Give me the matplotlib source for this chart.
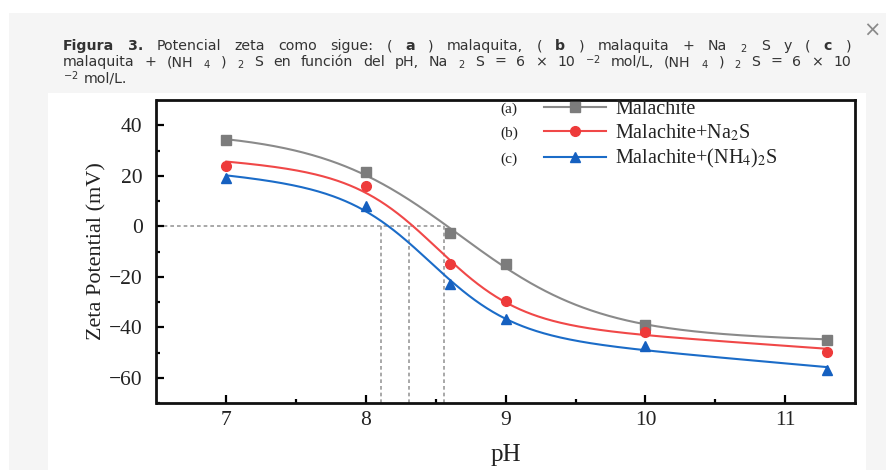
import numpy as np
import matplotlib
matplotlib.use("Agg")
import matplotlib.pyplot as plt
from matplotlib.patches import Rectangle
from matplotlib.lines import Line2D

# ---- data -------------------------------------------------------------
ph = [7.0, 8.0, 8.6, 9.0, 10.0, 11.3]
zeta_malachite = [34.0, 21.4, -2.6, -15.1, -39.0, -44.9]
zeta_na2s = [23.9, 15.9, -15.0, -29.8, -41.7, -49.7]
zeta_nh4s = [19.0, 7.9, -22.7, -36.6, -47.6, -56.8]
iep_values = [8.11, 8.31, 8.56]          # isoelectric points (zeta = 0)

series_labels = ["Malachite", "Malachite+Na$_2$S", "Malachite+(NH$_4$)$_2$S"]
series_tags = ["(a)", "(b)", "(c)"]
x_ticks = [7, 8, 9, 10, 11]
y_ticks = [40, 20, 0, -20, -40, -60]

line_colors = ["#8a8a8a", "#f04848", "#1b6cc8"]
marker_colors = ["#7c7c7c", "#ee3a3a", "#1560c0"]
markers = ["s", "o", "^"]

# caption, as (token, bold) pairs per line
caption_lines = [
    [("Figura", True), ("3.", True), ("Potencial", False), ("zeta", False),
     ("como", False), ("sigue:", False), ("(", False), ("a", True), (")", False),
     ("malaquita,", False), ("(", False), ("b", True), (")", False),
     ("malaquita", False), ("+", False), ("Na", False), ("${}_{2}$", False),
     ("S", False), ("y", False), ("(", False), ("c", True), (")", False)],
    [("malaquita", False), ("+", False), ("(NH", False), ("${}_{4}$", False),
     (")", False), ("${}_{2}$", False), ("S", False), ("en", False),
     ("función", False), ("del", False), ("pH,", False), ("Na", False),
     ("${}_{2}$", False), ("S", False), ("=", False), ("6", False), ("×", False),
     ("10", False), ("${}^{-2}$", False), ("mol/L,", False), ("(NH", False),
     ("${}_{4}$", False), (")", False), ("${}_{2}$", False), ("S", False),
     ("=", False), ("6", False), ("×", False), ("10", False)],
    [("${}^{-2}$", False), ("mol/L.", False)],
]


def sigmoid_fit(x, y):
    """Least-squares Boltzmann sigmoid with a linear background term."""
    x = np.asarray(x, float)
    y = np.asarray(y, float)
    best = None
    for x0 in np.linspace(7.8, 9.4, 161):
        for dx in np.linspace(0.3, 1.2, 91):
            s = 1.0 / (1.0 + np.exp((x - x0) / dx))
            A = np.column_stack([np.ones_like(x), x, s])
            coef, *_ = np.linalg.lstsq(A, y, rcond=None)
            r = np.sum((A @ coef - y) ** 2)
            if best is None or r < best[0]:
                best = (r, x0, dx, coef)
    _, x0, dx, c = best
    return lambda t: c[0] + c[1] * t + c[2] / (1.0 + np.exp((t - x0) / dx))


W, H, DPI = 887, 470, 100
fig = plt.figure(figsize=(W / DPI, H / DPI), dpi=DPI)
fig.patch.set_facecolor("white")

# page panel behind the caption and the figure image
fig.patches.append(Rectangle((9 / W, 0), 1 - 9 / W, 1 - 13 / H,
                             transform=fig.transFigure, facecolor="#f5f5f5",
                             edgecolor="none", zorder=-10))
fig.patches.append(Rectangle((48 / W, 0), (866 - 48) / W, 1 - 93 / H,
                             transform=fig.transFigure, facecolor="white",
                             edgecolor="none", zorder=-9))

# close glyph
fig.text(872 / W, 1 - 31 / H, "\u00d7", fontsize=15, color="#8a8a8a",
         ha="center", va="center", family="DejaVu Sans")

# ---- caption (justified word by word) ----------------------------------
renderer = fig.canvas.get_renderer()
cap_font = dict(family=["DejaVu Sans"], fontsize=10.2, color="#333333",
                math_fontfamily="dejavusans", va="baseline")
cap_left, cap_right = 63.0, 851.0
baselines = [50, 66, 82]
for li, (tokens, yb) in enumerate(zip(caption_lines, baselines)):
    arts = [fig.text(0, 1 - yb / H, tok, fontweight="bold" if b else "normal",
                     **cap_font) for tok, b in tokens]
    widths = [a.get_window_extent(renderer).width for a in arts]
    if li < len(caption_lines) - 1:
        gap = (cap_right - cap_left - sum(widths)) / (len(arts) - 1)
    else:
        gap = 5.0
    x = cap_left
    for a, w in zip(arts, widths):
        a.set_x(x / W)
        x += w + gap

# ---- axes -------------------------------------------------------------
ax = fig.add_axes([156.5 / W, 1 - 403 / H, (855 - 156.5) / W, (403 - 100) / H])
ax.set_xlim(6.5, 11.5)
ax.set_ylim(-70, 50)

serif = ["Liberation Serif", "DejaVu Serif"]

# zero line and isoelectric-point drop lines
ref_style = dict(color="#9a9a9a", lw=1.2, ls=(0, (2.2, 1.8)), zorder=1)
ax.plot([6.5, max(iep_values)], [0, 0], **ref_style)
for v in iep_values:
    ax.plot([v, v], [0, -70], **ref_style)

xs = np.linspace(min(ph), max(ph), 400)
handles = []
for yv, lab, lc, mc, mk in zip([zeta_malachite, zeta_na2s, zeta_nh4s],
                               series_labels, line_colors, marker_colors, markers):
    f = sigmoid_fit(ph, yv)
    ax.plot(xs, f(xs), color=lc, lw=1.5, zorder=2)
    ms = 7 if mk != "s" else 6.5
    ax.plot(ph, yv, ls="none", marker=mk, ms=ms, color=mc, mec=mc, zorder=3)
    handles.append(Line2D([], [], color=lc, lw=1.5, marker=mk, ms=ms,
                          mfc=mc, mec=mc, label=lab))

ax.set_xticks(x_ticks)
ax.set_xticks(np.arange(7.5, 11.5, 1.0), minor=True)
ax.set_yticks(y_ticks)
ax.set_yticks(np.arange(-70, 50, 10), minor=True)
ax.set_yticklabels(["\u2212" + str(-v) if v < 0 else str(v) for v in y_ticks])

ax.tick_params(which="both", direction="in", top=False, right=False,
               width=1.6, labelsize=15.5)
ax.tick_params(axis="y", pad=10)
ax.tick_params(axis="x", pad=6)
ax.tick_params(which="major", length=5.5)
ax.tick_params(which="minor", length=3)
for lab in ax.get_xticklabels() + ax.get_yticklabels():
    lab.set_family(serif)
    lab.set_color("#222222")
for s in ax.spines.values():
    s.set_linewidth(2.0)
    s.set_color("#111111")

ax.set_xlabel("pH", family=serif, fontsize=18, color="#222222", labelpad=10)
ax.set_ylabel("Zeta Potential (mV)", family=serif, fontsize=16,
              color="#222222", labelpad=2)

leg = ax.legend(handles=handles, loc="upper left",
                bbox_to_anchor=(0.543, 1.028), frameon=False,
                prop=dict(family=serif, size=14.5, math_fontfamily="stix"),
                handlelength=3.1, handletextpad=0.45, labelspacing=0.2,
                borderaxespad=0.0)
for t in leg.get_texts():
    t.set_color("#222222")

fig.canvas.draw()
r = fig.canvas.get_renderer()
for tag, txt in zip(series_tags, leg.get_texts()):
    e = txt.get_window_extent(r)
    ymid = (e.y0 + e.y1) / 2
    fig.text(500 / W, ymid / H, tag, family=serif, fontsize=11,
             color="#222222", va="center", ha="left")

fig.savefig("out.png", dpi=DPI)
